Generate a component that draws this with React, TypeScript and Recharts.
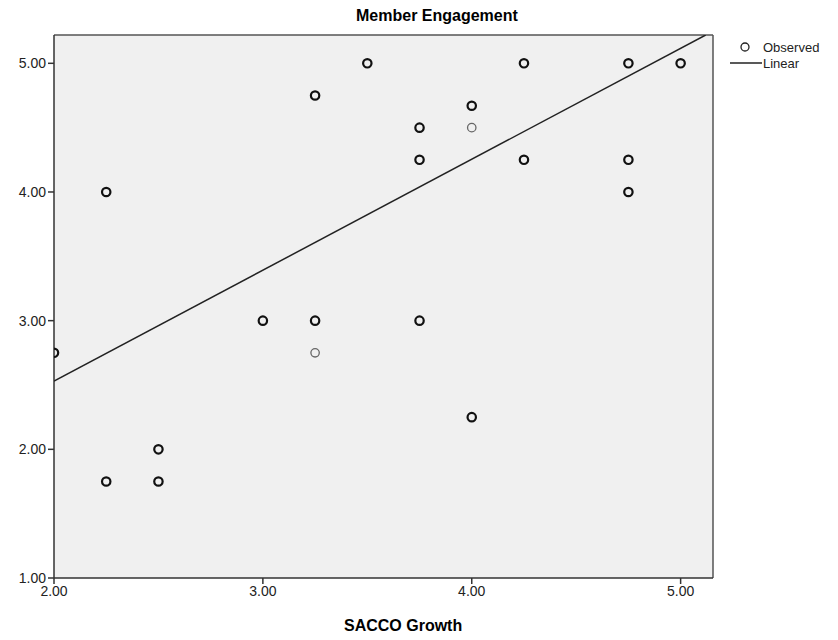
import React from 'react';
import { ScatterChart, Scatter, XAxis, YAxis, CartesianGrid, ReferenceLine } from 'recharts';

// Observed points drawn bold (several cases on top of each other in the source)
const boldGrowth = [2.0, 2.25, 2.25, 2.5, 2.5, 3.0, 3.25, 3.25, 3.5, 3.75, 3.75, 3.75, 4.0, 4.0, 4.25, 4.25, 4.75, 4.75, 4.75, 5.0];
const boldEngagement = [2.75, 4.0, 1.75, 2.0, 1.75, 3.0, 4.75, 3.0, 5.0, 4.5, 4.25, 3.0, 4.67, 2.25, 5.0, 4.25, 5.0, 4.25, 4.0, 5.0];

// Observed points drawn light (single cases)
const lightGrowth = [3.25, 4.0];
const lightEngagement = [2.75, 4.5];

// Linear fit endpoints
const fitGrowth = [2.0, 5.12];
const fitEngagement = [2.53, 5.22];

const xTicks = [2, 3, 4, 5];
const yTicks = [1, 2, 3, 4, 5];

const X_MAX = 5.155;
const Y_MAX = 5.22;

const zip = (xs: number[], ys: number[]) => xs.map((x, i) => ({ x, y: ys[i] }));

const boldData = zip(boldGrowth, boldEngagement);
const lightData = zip(lightGrowth, lightEngagement);
const fitData = zip(fitGrowth, fitEngagement);

const FONT = 'Arial, "Liberation Sans", sans-serif';

// eslint-disable-next-line @typescript-eslint/no-explicit-any
const BoldCircle = (props: any) => (
  <circle cx={props.cx} cy={props.cy} r={4.2} fill="none" stroke="#111" strokeWidth={2.2} />
);

// eslint-disable-next-line @typescript-eslint/no-explicit-any
const LightCircle = (props: any) => (
  <circle cx={props.cx} cy={props.cy} r={4.2} fill="none" stroke="#666" strokeWidth={1.3} />
);

const NoDot = () => <g />;

export default function App() {
  const tickStyle = { fill: '#222', fontSize: 14, fontFamily: FONT };

  return (
    <div style={{ position: 'relative', width: 838, height: 640, background: '#fff', fontFamily: FONT }}>
      <style>{`body{margin:0}`}</style>
      <div style={{ position: 'absolute', left: 356, top: 7, fontSize: 16, fontWeight: 'bold', color: '#000' }}>
        Member Engagement
      </div>
      <div style={{ position: 'absolute', left: 344, top: 617, fontSize: 16, fontWeight: 'bold', color: '#000' }}>
        SACCO Growth
      </div>

      {/* legend */}
      <svg style={{ position: 'absolute', left: 725, top: 38 }} width={110} height={34}>
        <circle cx={20} cy={9} r={4} fill="none" stroke="#222" strokeWidth={1.3} />
        <text x={38} y={13.5} fontSize={13} fill="#222" fontFamily={FONT}>Observed</text>
        <line x1={5} y1={25} x2={37} y2={25} stroke="#222" strokeWidth={1.5} />
        <text x={38} y={29.5} fontSize={13} fill="#222" fontFamily={FONT}>Linear</text>
      </svg>

      <ScatterChart width={838} height={640} margin={{ top: 35, right: 125, bottom: 0, left: 0 }}>
        <CartesianGrid fill="#f0f0f0" horizontal={false} vertical={false} />
        <XAxis
          type="number"
          dataKey="x"
          xAxisId="bottom"
          domain={[2, X_MAX]}
          ticks={xTicks}
          tickFormatter={(v) => v.toFixed(2)}
          allowDataOverflow
          height={62}
          tick={tickStyle}
          axisLine={{ stroke: '#333', strokeWidth: 1.5 }}
          tickLine={{ stroke: '#333', strokeWidth: 1.5 }}
          tickSize={6}
        />
        <YAxis
          type="number"
          dataKey="y"
          yAxisId="left"
          domain={[1, Y_MAX]}
          ticks={yTicks}
          tickFormatter={(v) => v.toFixed(2)}
          allowDataOverflow
          width={54}
          tick={tickStyle}
          axisLine={{ stroke: '#333', strokeWidth: 1.5 }}
          tickLine={{ stroke: '#333', strokeWidth: 1.5 }}
          tickSize={6}
        />
        <ReferenceLine xAxisId="bottom" yAxisId="left" y={Y_MAX} stroke="#555" strokeWidth={1.5} ifOverflow="visible" />
        <ReferenceLine xAxisId="bottom" yAxisId="left" x={X_MAX} stroke="#555" strokeWidth={1.5} ifOverflow="visible" />
        <Scatter
          data={fitData}
          xAxisId="bottom"
          yAxisId="left"
          line={{ stroke: '#222', strokeWidth: 1.5 }}
          shape={<NoDot />}
          isAnimationActive={false}
        />
        <Scatter data={lightData} xAxisId="bottom" yAxisId="left" shape={<LightCircle />} isAnimationActive={false} />
        <Scatter data={boldData} xAxisId="bottom" yAxisId="left" shape={<BoldCircle />} isAnimationActive={false} />
      </ScatterChart>
    </div>
  );
}
